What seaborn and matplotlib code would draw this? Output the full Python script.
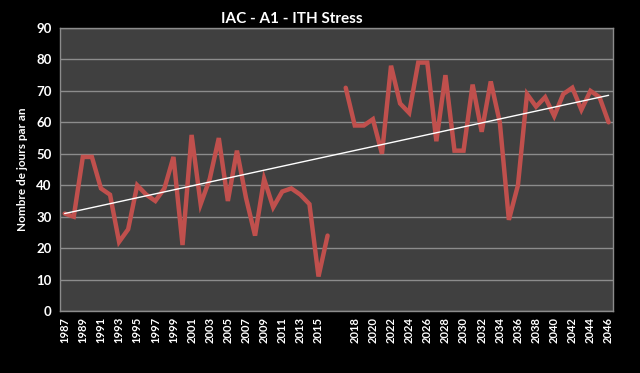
import numpy as np
import pandas as pd
import matplotlib
matplotlib.use("Agg")
import matplotlib.pyplot as plt
import seaborn as sns

years_a = list(range(1987, 2017))
values_a = [31, 30, 49, 49, 39, 37, 22, 26, 40, 37, 35, 39, 49, 21, 56, 34, 42, 55, 35, 51,
            36, 24, 42, 33, 38, 39, 37, 34, 11, 24]
years_b = list(range(2017, 2047))
values_b = [71, 59, 59, 61, 50, 78, 66, 63, 79, 79, 54, 75, 51, 51, 72, 57, 73, 60, 29, 40,
            69, 65, 68, 62, 69, 71, 64, 70, 68, 60]

categories = [str(y) for y in years_a] + [""] + [str(y) for y in years_b]
values = values_a + [np.nan] + values_b

sns.set_theme(style="dark")
plt.rcParams['font.family'] = ['Lato', 'DejaVu Sans']

fig = plt.figure(figsize=(6.4, 3.73), dpi=100, facecolor="black")
ax = fig.add_axes([0.094, 0.166, 0.864, 0.759])
ax.set_facecolor("#404040")

idx = np.arange(len(categories))
df = pd.DataFrame({"x": idx, "v": values, "seg": [0] * len(years_a) + [-1] + [1] * len(years_b)})
line_color = "#C0504D"
for s in (0, 1):
    d = df[df.seg == s]
    sns.lineplot(data=d, x="x", y="v", ax=ax, color=line_color, linewidth=3.2,
                 solid_joinstyle="miter", zorder=3)

# linear trend line
valid = ~np.isnan(np.array(values, dtype=float))
coef = np.polyfit(idx[valid], np.array(values, dtype=float)[valid], 1)
ax.plot([idx[0], idx[-1]], np.polyval(coef, [idx[0], idx[-1]]), color="white", linewidth=1.0, zorder=4)

ax.set_xlim(-0.5, len(categories) - 0.5)
ax.set_ylim(0, 90)
ax.set_yticks(np.arange(0, 91, 10))
ax.set_xticks(idx[::2])
ax.set_xticklabels(categories[::2], rotation=90)
ax.yaxis.grid(True, color="#8c8c8c", linewidth=1.0)
ax.xaxis.grid(False)
ax.set_axisbelow(True)
for sp in ax.spines.values():
    sp.set_visible(True)
    sp.set_color("#8c8c8c")
    sp.set_linewidth(1.0)
ax.tick_params(axis="both", colors="white", labelsize=8, length=0, pad=4)
ax.tick_params(axis="y", labelsize=9.5, pad=6)
for lab in ax.get_xticklabels() + ax.get_yticklabels():
    lab.set_fontweight("bold")
    lab.set_color("white")
ax.set_xlabel("")
ax.set_ylabel("Nombre de jours par an", color="white", fontsize=8.5, fontweight="bold", labelpad=6)
fig.text(292 / 640, 1 - 19 / 373, "IAC - A1 - ITH Stress", color="white", fontsize=11,
         fontweight="bold", ha="center", va="center")

fig.savefig("out.png", dpi=100, facecolor="black")
